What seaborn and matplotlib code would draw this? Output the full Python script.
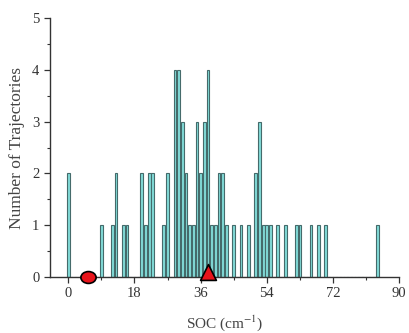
import matplotlib
matplotlib.use("Agg")
import matplotlib.pyplot as plt
import seaborn as sns
import numpy as np
import pandas as pd
from matplotlib.ticker import MultipleLocator
from matplotlib.path import Path

# Data
soc_bins = [0, 9, 12, 13, 15, 16, 20, 21, 22, 23, 26, 27, 29, 30, 31, 32, 33, 34,
            35, 36, 37, 38, 39, 40, 41, 42, 43, 45, 47, 49, 51, 52, 53, 54, 55,
            57, 59, 62, 63, 66, 68, 70, 84]
counts = [2, 1, 1, 2, 1, 1, 2, 1, 2, 2, 1, 2, 4, 4, 3, 2, 1, 1,
          3, 2, 3, 4, 1, 1, 2, 2, 1, 1, 1, 1, 2, 3, 1, 1, 1,
          1, 1, 1, 1, 1, 1, 1, 1]
circle_x = [5.3]
circle_y = [0.0]
triangle_x = [38.0]
triangle_y = [0.1]
x_ticks = [0, 18, 36, 54, 72, 90]
y_ticks = [0, 1, 2, 3, 4, 5]

df = pd.DataFrame({"SOC": soc_bins, "count": counts})

sns.set_style("ticks")
plt.rcParams["font.family"] = ["Liberation Serif", "DejaVu Serif"]
plt.rcParams["mathtext.fontset"] = "stix"

fig = plt.figure(figsize=(4.09, 3.33), dpi=100)
ax = fig.add_axes([0.122, 0.168, 0.854, 0.778])

sns.histplot(data=df, x="SOC", weights="count", discrete=True, shrink=0.75,
             color="#82dcd8", edgecolor="#456b6b", linewidth=0.8, alpha=1.0, ax=ax)

uc = Path.unit_circle()
ellipse = Path(uc.vertices * np.array([1.0, 0.78]), uc.codes)

ax.scatter(circle_x, circle_y, s=120, marker=ellipse, color="#e8141b",
           edgecolor="black", linewidth=1.2, zorder=5, clip_on=False)
ax.scatter(triangle_x, triangle_y, s=130, marker="^", color="#e8141b",
           edgecolor="black", linewidth=1.2, zorder=5, clip_on=False)

ax.set_xlim(-5, 90)
ax.set_ylim(0, 5)
ax.set_xticks(x_ticks)
ax.set_yticks(y_ticks)
ax.xaxis.set_minor_locator(MultipleLocator(9))
ax.yaxis.set_minor_locator(MultipleLocator(0.5))
ax.tick_params(axis="both", which="major", direction="out", length=4, width=0.9,
               labelsize=10.5, colors="#333333")
ax.tick_params(axis="both", which="minor", direction="out", length=2.5, width=0.8,
               colors="#333333")
for s in ["left", "bottom"]:
    ax.spines[s].set_color("#333333")
    ax.spines[s].set_linewidth(1.0)
sns.despine(ax=ax, top=True, right=True)

ax.set_xlabel("SOC (cm$^{-1}$)", fontsize=11, color="#444444", labelpad=9)
ax.set_ylabel("Number of Trajectories", fontsize=12.5, color="#444444", labelpad=5)

fig.savefig("out.png", dpi=100)
